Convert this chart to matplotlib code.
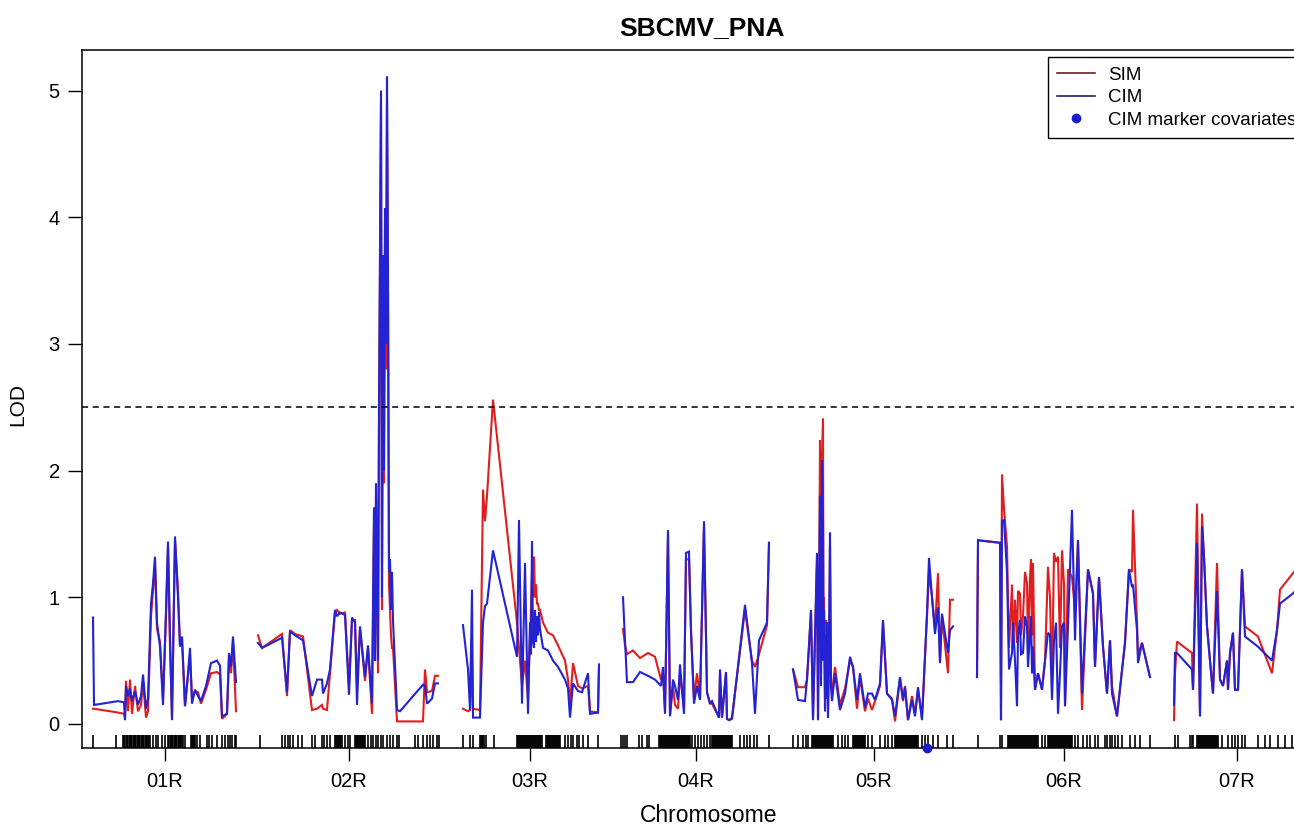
import matplotlib
matplotlib.use('Agg')
import matplotlib.pyplot as plt
from matplotlib import transforms as mtransforms
from matplotlib.lines import Line2D

plt.rcParams['font.family'] = ['Liberation Sans', 'DejaVu Sans']

chroms = ['01R', '02R', '03R', '04R', '05R', '06R', '07R']
chrom_len = [143, 181, 138, 150, 162, 174, 128]
gap = 22
threshold = 2.5

# position (cM), CIM lod, SIM lod for each chromosome
pos1 = [0, 1, 25, 31, 32, 33, 35, 37, 39, 42, 45, 48, 50, 53, 55, 58, 60, 62, 64, 67, 70, 73, 75, 77, 79, 82, 85, 87,
        89, 92, 95, 97, 99, 102, 105, 108, 113, 118, 124, 127, 129, 134, 136, 138, 140, 143]
cim1 = [0.84, 0.15, 0.18, 0.17, 0.03, 0.30, 0.22, 0.28, 0.18, 0.26, 0.15, 0.22, 0.39, 0.12, 0.20, 0.95, 1.11, 1.32,
        0.80, 0.61, 0.15, 0.90, 1.44, 0.70, 0.03, 1.48, 1.00, 0.61, 0.69, 0.14, 0.40, 0.60, 0.16, 0.27, 0.22, 0.18,
        0.30, 0.48, 0.50, 0.46, 0.06, 0.08, 0.56, 0.45, 0.69, 0.33]
sim1 = [0.12, 0.12, 0.09, 0.08, 0.05, 0.34, 0.10, 0.35, 0.08, 0.30, 0.10, 0.15, 0.33, 0.05, 0.10, 0.85, 1.05, 1.25,
        0.75, 0.65, 0.20, 0.85, 1.40, 0.60, 0.05, 1.45, 1.05, 0.62, 0.66, 0.14, 0.38, 0.55, 0.20, 0.26, 0.25, 0.16,
        0.27, 0.40, 0.41, 0.39, 0.04, 0.08, 0.52, 0.40, 0.65, 0.10]

pos2 = [0, 4, 24, 29, 32, 37, 45, 54, 59, 64, 65, 69, 72, 77, 79, 82, 87, 91, 94, 97, 99, 102, 107, 110, 114, 116,
        117, 118, 120, 121, 123, 124, 125, 126, 127, 128, 129, 130, 131, 132, 133, 134, 135, 139, 142, 165, 167, 169,
        174, 177, 180]
cim2 = [0.64, 0.60, 0.68, 0.25, 0.73, 0.70, 0.66, 0.22, 0.35, 0.35, 0.24, 0.32, 0.43, 0.90, 0.85, 0.88, 0.86, 0.23,
        0.84, 0.80, 0.15, 0.77, 0.37, 0.62, 0.16, 1.71, 0.50, 1.90, 0.50, 2.50, 5.00, 1.00, 3.70, 2.00, 4.07, 3.00,
        5.11, 3.60, 1.20, 1.30, 0.90, 1.20, 0.82, 0.11, 0.10, 0.31, 0.30, 0.16, 0.20, 0.32, 0.32]
sim2 = [0.70, 0.60, 0.71, 0.22, 0.74, 0.71, 0.69, 0.11, 0.12, 0.15, 0.12, 0.11, 0.40, 0.88, 0.90, 0.87, 0.88, 0.30,
        0.82, 0.82, 0.30, 0.75, 0.34, 0.60, 0.08, 1.60, 0.50, 1.80, 0.40, 2.30, 4.90, 0.90, 3.50, 1.90, 3.90, 2.80,
        4.90, 3.40, 1.10, 0.90, 0.70, 0.60, 0.60, 0.02, 0.02, 0.02, 0.43, 0.25, 0.26, 0.38, 0.38]

pos3 = [2, 7, 9, 11, 12, 19, 22, 24, 26, 32, 56, 58, 61, 64, 67, 69, 70, 71, 72, 73, 74, 75, 76, 77, 78, 79, 82, 87,
        92, 97, 104, 107, 109, 112, 117, 121, 127, 129, 137, 138]
cim3 = [0.78, 0.43, 0.11, 1.06, 0.05, 0.05, 0.80, 0.93, 0.95, 1.37, 0.53, 1.61, 0.16, 1.27, 0.08, 0.80, 0.55, 1.44,
        0.65, 0.60, 0.90, 0.65, 0.85, 0.70, 0.88, 0.75, 0.60, 0.58, 0.50, 0.45, 0.35, 0.28, 0.05, 0.32, 0.26, 0.25,
        0.40, 0.08, 0.09, 0.47]
sim3 = [0.12, 0.10, 0.11, 0.50, 0.12, 0.11, 1.85, 1.60, 1.80, 2.56, 0.80, 0.60, 0.30, 0.50, 0.20, 0.70, 0.90, 1.20,
        1.00, 1.32, 1.00, 1.10, 0.95, 0.95, 0.90, 0.90, 0.80, 0.72, 0.70, 0.62, 0.50, 0.35, 0.16, 0.48, 0.30, 0.28,
        0.30, 0.10, 0.09, 0.45]

pos4 = [2, 4, 6, 12, 19, 27, 34, 40, 42, 44, 47, 49, 52, 54, 57, 59, 63, 65, 68, 70, 73, 76, 79, 83, 86, 89, 91, 98,
        99, 101, 105, 106, 108, 111, 124, 131, 134, 138, 146, 148]
cim4 = [1.00, 0.66, 0.33, 0.33, 0.41, 0.38, 0.35, 0.30, 0.45, 0.08, 1.53, 0.06, 0.35, 0.30, 0.19, 0.47, 0.08, 1.35,
        1.36, 0.72, 0.16, 0.30, 0.19, 1.60, 0.25, 0.16, 0.18, 0.05, 0.43, 0.05, 0.41, 0.04, 0.03, 0.04, 0.94, 0.48,
        0.08, 0.66, 0.80, 1.43]
sim4 = [0.75, 0.62, 0.55, 0.58, 0.52, 0.56, 0.53, 0.35, 0.40, 0.10, 1.50, 0.08, 0.30, 0.15, 0.12, 0.40, 0.12, 1.30,
        1.30, 0.75, 0.20, 0.40, 0.20, 1.55, 0.25, 0.16, 0.16, 0.05, 0.40, 0.05, 0.40, 0.04, 0.03, 0.05, 0.90, 0.50,
        0.45, 0.55, 0.78, 1.43]

pos5 = [0, 5, 12, 14, 18, 20, 24, 25, 26, 27, 28, 29, 30, 30.5, 31, 32, 33, 33.5, 34, 35, 36, 37, 38, 39, 42, 47,
        52, 57, 60, 64, 67, 72, 75, 79, 82, 87, 90, 94, 99, 102, 107, 110, 112, 115, 119, 122, 125, 129, 134, 136,
        139, 142, 145, 147, 149, 155, 157, 160]
cim5 = [0.43, 0.19, 0.18, 0.35, 0.90, 0.03, 1.35, 0.03, 1.00, 1.80, 0.30, 2.08, 1.60, 0.50, 0.90, 0.10, 0.70, 0.20,
        0.80, 0.05, 0.60, 1.51, 0.30, 0.18, 0.40, 0.11, 0.24, 0.53, 0.45, 0.19, 0.40, 0.13, 0.24, 0.24, 0.19, 0.32,
        0.82, 0.24, 0.19, 0.06, 0.37, 0.19, 0.29, 0.03, 0.19, 0.06, 0.29, 0.03, 0.87, 1.31, 1.00, 0.71, 0.92, 0.48,
        0.87, 0.56, 0.74, 0.77]
sim5 = [0.43, 0.29, 0.29, 0.35, 0.88, 0.05, 1.30, 0.05, 0.90, 2.24, 0.40, 2.10, 2.41, 0.70, 1.00, 0.20, 0.82, 0.30,
        0.70, 0.08, 0.50, 1.40, 0.30, 0.25, 0.45, 0.15, 0.28, 0.50, 0.45, 0.12, 0.37, 0.10, 0.20, 0.11, 0.18, 0.30,
        0.80, 0.24, 0.20, 0.02, 0.36, 0.18, 0.30, 0.03, 0.22, 0.08, 0.27, 0.05, 0.85, 1.20, 1.00, 0.75, 1.19, 0.50,
        0.85, 0.40, 0.98, 0.98]

pos6 = [0, 1, 23, 24, 25, 27, 30, 32, 35, 36, 38, 40, 41, 43, 44, 46, 48, 50, 51, 53, 54, 55, 56, 58, 61, 65, 68,
        71, 73, 75, 77, 79, 81, 83, 85, 87, 88, 91, 95, 98, 101, 105, 111, 116, 118, 122, 126, 130, 133, 135, 140,
        148, 152, 155, 156, 160, 161, 165, 173]
cim6 = [0.37, 1.45, 1.43, 0.03, 1.60, 1.61, 1.20, 0.43, 0.56, 0.80, 0.50, 0.14, 0.70, 0.82, 0.55, 0.56, 0.85, 0.77,
        0.45, 0.72, 0.85, 0.40, 0.61, 0.27, 0.40, 0.27, 0.50, 0.72, 0.70, 0.19, 0.66, 0.80, 0.08, 0.40, 0.77, 0.80,
        0.14, 0.77, 1.69, 0.66, 1.45, 0.24, 1.22, 1.03, 0.45, 1.16, 0.61, 0.24, 0.66, 0.24, 0.06, 0.64, 1.22, 1.08,
        1.10, 0.74, 0.48, 0.64, 0.37]
sim6 = [0.37, 1.45, 1.43, 0.03, 1.97, 1.70, 1.40, 0.60, 1.10, 0.60, 0.98, 0.64, 1.05, 1.03, 0.70, 0.85, 1.20, 1.11,
        0.60, 1.16, 1.30, 0.70, 1.27, 0.27, 0.40, 0.27, 0.50, 1.24, 1.00, 0.30, 1.35, 1.28, 1.32, 0.60, 1.37, 1.10,
        0.14, 1.22, 1.16, 0.90, 1.45, 0.11, 1.22, 1.03, 0.45, 1.16, 0.61, 0.24, 0.66, 0.30, 0.06, 0.64, 1.22, 1.20,
        1.69, 0.80, 0.55, 0.64, 0.37]

pos7 = [1, 2, 4, 19, 20, 24, 27, 29, 31, 34, 37, 40, 44, 47, 50, 54, 55, 57, 60, 62, 65, 69, 72, 85, 99, 104, 107,
        120, 128]
cim7 = [0.15, 0.56, 0.56, 0.43, 0.27, 1.43, 0.06, 1.56, 1.32, 0.77, 0.50, 0.24, 1.05, 0.35, 0.30, 0.50, 0.27, 0.56,
        0.72, 0.27, 0.27, 1.22, 0.69, 0.61, 0.50, 0.74, 0.95, 1.03, 1.10]
sim7 = [0.03, 0.40, 0.65, 0.56, 0.27, 1.74, 0.06, 1.66, 1.32, 0.77, 0.50, 0.24, 1.27, 0.35, 0.30, 0.50, 0.27, 0.56,
        0.72, 0.27, 0.27, 1.22, 0.77, 0.69, 0.40, 0.74, 1.06, 1.19, 1.28]

# genetic markers (rug)
mk1 = [0, 23, 30, 31, 32, 33.5, 34, 35, 36.5, 37, 38, 39, 40.5, 41, 42, 43, 44.5, 45, 46, 47, 48.5, 49, 50, 51, 52.5,
       53, 54, 55, 56, 57, 60, 63, 65, 69, 72, 75, 76, 77.5, 78, 79, 80, 81.5, 82, 83, 84, 85.5, 86, 87, 88, 89, 90,
       92, 98, 99, 100, 101, 102, 103.5, 107, 114, 116, 119, 124, 129, 132, 135, 137, 139, 142, 143]
mk2 = [2, 24, 27, 30, 32, 35, 40, 44, 54, 57, 64, 66, 69, 72, 77, 78, 79, 80, 81, 82, 83, 84, 87, 90, 92, 97, 98, 99,
       100, 101, 102, 103, 104, 105, 106, 107, 110, 113, 115, 118, 120, 123, 125, 129, 132, 135, 139, 141, 157, 160,
       165, 169, 172, 175, 179, 181]
mk3 = [2, 9, 12, 19, 20, 21, 22, 23, 24.5, 33, 56, 57, 58, 59, 60, 61, 62, 63, 64, 65, 66, 67, 68, 69, 70, 71, 72,
       73, 74, 75, 76, 77, 78, 79, 80, 81, 85, 86, 87, 88, 89, 90, 91, 92, 93, 94, 95, 96, 97, 98, 99, 104, 107, 110,
       112, 116, 118, 122, 127, 137]
mk4 = [0, 2, 4, 6, 18, 21, 26, 28, 38, 39, 40, 41, 42, 43, 44, 45, 46, 47, 48, 49, 50, 51, 52, 53, 54, 55, 56, 57,
       58, 59, 60, 61, 62, 63, 64, 65, 66, 67, 68, 69, 71, 74, 77, 80, 83, 86, 89, 91, 92, 93, 94, 95, 96, 97, 98,
       99, 100, 101, 102, 103, 104, 105, 106, 107, 108, 109, 110, 111, 119, 123, 126, 129, 133, 136, 148]
mk5 = [0, 5, 10, 13, 15, 19, 20, 21, 22, 23, 24, 25, 26, 27, 28, 29, 30, 31, 32, 33, 34, 35, 36, 37, 38, 39, 40, 45,
       49, 52, 55, 60, 61, 62, 63, 64, 65, 66, 67, 68, 69, 70, 71, 72, 75, 79, 87, 92, 95, 99, 102, 103, 104, 105,
       106, 107, 108, 109, 110, 111, 112, 113, 114, 115, 116, 117, 118, 119, 120, 121, 122, 123, 124, 125, 129, 132,
       135, 140, 145, 154, 160]
mk6 = [1, 23, 25, 31, 32, 33, 34, 35, 36, 37, 38, 39, 40, 41, 42, 43, 44, 45, 46, 47, 48, 49, 50, 51, 52, 53, 54, 55,
       56, 57, 58, 59, 60, 61, 65, 68, 71, 72, 73, 74, 75, 76, 77, 78, 79, 80, 81, 82, 83, 84, 85, 86, 87, 88, 89, 90,
       91, 92, 93, 94, 95, 98, 101, 106, 110, 113, 118, 121, 128, 130, 133, 135, 138, 141, 145, 153, 158, 163, 173]
mk7 = [2, 5, 17, 19, 20, 24, 25, 26, 27, 28, 29, 30, 31, 32, 33, 34, 35, 36, 37, 38, 39, 40, 41, 42, 43, 44, 45, 49,
       55, 59, 62, 65, 69, 72, 85, 92, 97, 105, 112, 119]

covar_chrom = 4
covar_pos = 134

positions = [pos1, pos2, pos3, pos4, pos5, pos6, pos7]
cims = [cim1, cim2, cim3, cim4, cim5, cim6, cim7]
sims = [sim1, sim2, sim3, sim4, sim5, sim6, sim7]
markers = [mk1, mk2, mk3, mk4, mk5, mk6, mk7]

offsets = []
start = 0
for L in chrom_len:
    offsets.append(start)
    start += L + gap

sim_col = '#e01e1e'
cim_col = '#2323d4'

fig = plt.figure(figsize=(12.94, 8.24), dpi=100)
ax = fig.add_axes([82 / 1294, 1 - 748 / 824, 1230 / 1294, 698 / 824])

rug_tr = mtransforms.blended_transform_factory(ax.transData, ax.transAxes)
for i in range(len(chroms)):
    off = offsets[i]
    x = [p + off for p in positions[i]]
    ax.plot(x, sims[i], color=sim_col, lw=1.5, solid_joinstyle='miter')
    ax.plot(x, cims[i], color=cim_col, lw=1.5, solid_joinstyle='miter')
    mx = [m + off for m in markers[i]]
    ax.vlines(mx, 0, 0.019, transform=rug_tr, color='black', lw=1.2)

ax.plot([offsets[covar_chrom] + covar_pos], [0], 'o', color='#1a1acc', ms=6,
        transform=rug_tr, clip_on=False, zorder=5)

ax.axhline(threshold, color='black', lw=1.1, ls=(0, (4, 3)))

ax.set_xlim(-11, start - gap + 11)
ax.set_ylim(-0.19, 5.32)

centers = [offsets[i] + chrom_len[i] / 2 for i in range(len(chroms))]
ax.set_xticks(centers)
ax.set_xticklabels(chroms)
ax.set_yticks([0, 1, 2, 3, 4, 5])
ax.tick_params(axis='both', direction='out', labelsize=14.5, width=1, colors='black')
ax.tick_params(axis='y', length=10, pad=6)
ax.tick_params(axis='x', length=9, pad=8)
for s in ax.spines.values():
    s.set_linewidth(1.1)

fig.text(702 / 1294, 1 - 28 / 824, 'SBCMV_PNA', ha='center', va='center', fontsize=19, fontweight='bold')
fig.text(709 / 1294, 1 - 815 / 824, 'Chromosome', ha='center', va='center', fontsize=16.5)
fig.text(18 / 1294, 1 - 405 / 824, 'LOD', ha='center', va='center', fontsize=15, rotation=90)

handles = [Line2D([], [], color='#6b1f1f', lw=1.2),
           Line2D([], [], color='#1f1f6b', lw=1.2),
           Line2D([], [], color='#1a1acc', lw=0, marker='o', ms=6)]
leg = fig.legend(handles, ['SIM', 'CIM', 'CIM marker covariates'], loc='upper left',
                 bbox_to_anchor=(1048 / 1294, 1 - 57 / 824), fontsize=13.5, frameon=True, fancybox=False,
                 edgecolor='black', framealpha=1, borderpad=0.5, handlelength=2.0, labelspacing=0.3,
                 handletextpad=0.7, borderaxespad=0)
leg.get_frame().set_linewidth(1.0)

fig.savefig('out.png', dpi=100)
